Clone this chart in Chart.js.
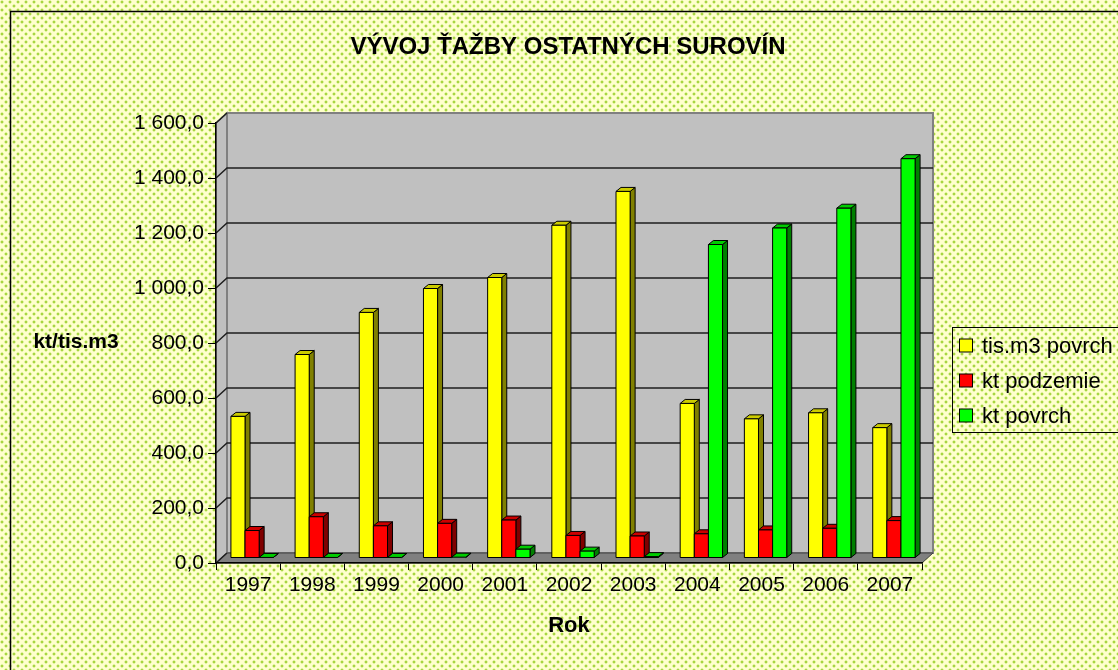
<!DOCTYPE html>
<html>
<head>
<meta charset="utf-8">
<script src="https://cdn.jsdelivr.net/npm/chart.js@4/dist/chart.umd.min.js"></script>
<style>
  html, body { margin: 0; padding: 0; background: #ffffcc; }
  #wrap { width: 1118px; height: 670px; }
</style>
</head>
<body>
<div id="wrap"><canvas id="chart" width="1118" height="670"></canvas></div>
<script>
// data
const years = ['1997', '1998', '1999', '2000', '2001', '2002', '2003', '2004', '2005', '2006', '2007'];
const tisM3Povrch = [515, 740, 893, 980, 1020, 1210, 1333, 562, 506, 528, 474];
const ktPodzemie = [100, 150, 117, 126, 138, 82, 80, 88, 102, 108, 136];
const ktPovrch = [2, 2, 2, 3, 32, 25, 5, 1140, 1200, 1272, 1452];
const seriesNames = ['tis.m3 povrch', 'kt podzemie', 'kt povrch'];
const yTicks = [0, 200, 400, 600, 800, 1000, 1200, 1400, 1600];

const FONT = '"Liberation Sans", Arial, sans-serif';
Chart.defaults.font.family = FONT;
Chart.defaults.color = '#000';

// front / top / side colours of each series
const faces = [
    { front: '#ffff00', top: '#cccc00', side: '#808000' },
    { front: '#ff0000', top: '#cc0000', side: '#800000' },
    { front: '#00ff00', top: '#00cc00', side: '#008000' }
];

const WALL_DX = 11, WALL_DY = 10;  // depth of the 3d walls
const BAR_SHIFT_X = 4, BAR_SHIFT_Y = 5; // bars sit half way into the depth
const BAR_DX = 5, BAR_DY = 4;      // depth of the 3d bars

function fmt(v) {
    const parts = v.toFixed(1).split('.');
    return parts[0].replace(/\B(?=(\d{3})+(?!\d))/g, ' ') + ',' + parts[1];
}

// dotted background like the Excel fill
function makePattern(ctx) {
    const tile = document.createElement('canvas');
    tile.width = 8; tile.height = 8;
    const t = tile.getContext('2d');
    t.fillStyle = '#ffffcc';
    t.fillRect(0, 0, 8, 8);
    [[1, 1], [5, 5]].forEach(([x, y]) => {
        t.fillStyle = '#e2f2a4';
        t.fillRect(x - 1, y, 1, 2);
        t.fillRect(x + 2, y, 1, 2);
        t.fillRect(x, y - 1, 2, 1);
        t.fillRect(x, y + 2, 2, 1);
        t.fillStyle = '#a8d63e';
        t.fillRect(x, y, 2, 2);
    });
    return ctx.createPattern(tile, 'repeat');
}

function poly(ctx, pts, fill, stroke, lw) {
    ctx.beginPath();
    ctx.moveTo(pts[0][0], pts[0][1]);
    for (let i = 1; i < pts.length; i++) ctx.lineTo(pts[i][0], pts[i][1]);
    ctx.closePath();
    if (fill) { ctx.fillStyle = fill; ctx.fill(); }
    if (stroke) { ctx.strokeStyle = stroke; ctx.lineWidth = lw || 1; ctx.stroke(); }
}

const excel3d = {
    id: 'excel3d',
    beforeDraw(chart) {
        const { ctx, chartArea: a, scales: { y } } = chart;
        ctx.save();
        ctx.fillStyle = makePattern(ctx);
        ctx.fillRect(0, 0, chart.width, chart.height);

        // left wall
        poly(ctx, [[a.left, a.top], [a.left + WALL_DX, a.top - WALL_DY],
            [a.left + WALL_DX, a.bottom - WALL_DY], [a.left, a.bottom]], '#c0c0c0', '#808080', 1.5);
        // back wall
        ctx.fillStyle = '#c0c0c0';
        ctx.fillRect(a.left + WALL_DX, a.top - WALL_DY, a.right - a.left, a.bottom - a.top);
        ctx.strokeStyle = '#808080';
        ctx.lineWidth = 2;
        ctx.strokeRect(a.left + WALL_DX, a.top - WALL_DY, a.right - a.left, a.bottom - a.top);
        // floor
        poly(ctx, [[a.left, a.bottom], [a.right, a.bottom], [a.right + WALL_DX, a.bottom - WALL_DY],
            [a.left + WALL_DX, a.bottom - WALL_DY]], '#808080', '#404040', 1);

        // gridlines on the walls
        ctx.strokeStyle = '#1e1e1e';
        ctx.lineWidth = 1.5;
        y.ticks.forEach(t => {
            const yy = y.getPixelForValue(t.value);
            ctx.beginPath();
            ctx.moveTo(a.left, yy);
            ctx.lineTo(a.left + WALL_DX, yy - WALL_DY);
            if (t.value > y.min && t.value < y.max) ctx.lineTo(a.right + WALL_DX, yy - WALL_DY);
            ctx.stroke();
        });
        ctx.restore();
    },
    afterDatasetsDraw(chart) {
        const { ctx } = chart;
        const metas = chart.data.datasets.map((d, i) => chart.getDatasetMeta(i));
        ctx.save();
        ctx.lineJoin = 'miter';
        for (let i = 0; i < chart.data.labels.length; i++) {
            metas.forEach((meta, d) => {
                const bar = meta.data[i];
                if (!bar) return;
                const p = bar.getProps(['x', 'y', 'base', 'width'], true);
                const l = p.x - p.width / 2 + BAR_SHIFT_X, r = p.x + p.width / 2 + BAR_SHIFT_X;
                const top = Math.min(p.y, p.base) - BAR_SHIFT_Y, bot = Math.max(p.y, p.base) - BAR_SHIFT_Y;
                const f = faces[d];
                poly(ctx, [[r, top], [r + BAR_DX, top - BAR_DY], [r + BAR_DX, bot - BAR_DY], [r, bot]], f.side, '#000', 1);
                poly(ctx, [[l, top], [r, top], [r + BAR_DX, top - BAR_DY], [l + BAR_DX, top - BAR_DY]], f.top, '#000', 1);
                if (bot - top > 0.5) poly(ctx, [[l, top], [r, top], [r, bot], [l, bot]], f.front, '#000', 1);
            });
        }
        ctx.restore();
    },
    afterDraw(chart) {
        const { ctx, chartArea: a } = chart;
        ctx.save();
        ctx.fillStyle = '#000';
        ctx.textBaseline = 'middle';
        ctx.textAlign = 'center';
        ctx.font = 'bold 24px ' + FONT;
        ctx.fillText('VÝVOJ ŤAŽBY OSTATNÝCH SUROVÍN', 568, 47);
        ctx.font = 'bold 22px ' + FONT;
        ctx.fillText('Rok', (a.left + a.right) / 2, 626);
        ctx.font = 'bold 21px ' + FONT;
        ctx.fillText('kt/tis.m3', 76, 342);

        // legend
        ctx.strokeStyle = '#000';
        ctx.lineWidth = 1;
        ctx.strokeRect(952.5, 327.5, 220, 105);
        ctx.textAlign = 'left';
        ctx.font = '22px ' + FONT;
        chart.data.datasets.forEach((ds, i) => {
            const cy = 345.5 + i * 35;
            ctx.fillStyle = faces[i].front;
            ctx.fillRect(959.5, cy - 6.5, 13, 13);
            ctx.strokeRect(959.5, cy - 6.5, 13, 13);
            ctx.fillStyle = '#000';
            ctx.fillText(ds.label, 982, cy + 1);
        });

        // outer frame
        ctx.lineWidth = 1.5;
        ctx.strokeRect(10.5, 11.5, 1300, 800);
        ctx.restore();
    }
};

const seriesData = [tisM3Povrch, ktPodzemie, ktPovrch];

new Chart(document.getElementById('chart').getContext('2d'), {
    type: 'bar',
    data: {
        labels: years,
        datasets: seriesData.map((values, i) => ({
            label: seriesNames[i],
            data: values,
            // the 3d plugin paints the bars, the library only positions them
            backgroundColor: 'rgba(0,0,0,0)',
            borderWidth: 0,
            categoryPercentage: 0.66,
            barPercentage: 1.0
        }))
    },
    options: {
        responsive: false,
        animation: false,
        layout: { padding: { left: 0, right: 196, top: 123, bottom: 0 } },
        plugins: {
            legend: { display: false },
            title: { display: false },
            tooltip: { enabled: false }
        },
        scales: {
            x: {
                grid: { display: true, drawOnChartArea: false, drawTicks: true, tickLength: 7, color: '#000', offset: true },
                border: { display: true, color: '#000', width: 1.5 },
                ticks: { font: { size: 21 }, padding: 3, maxRotation: 0, autoSkip: false },
                afterFit(scale) { scale.height = 107; }
            },
            y: {
                min: yTicks[0],
                max: yTicks[yTicks.length - 1],
                afterBuildTicks(scale) { scale.ticks = yTicks.map(v => ({ value: v })); },
                grid: { display: true, drawOnChartArea: false, drawTicks: true, tickLength: 8, color: '#000' },
                border: { display: true, color: '#000', width: 1.5 },
                ticks: { font: { size: 21 }, padding: 4, callback: v => fmt(v) },
                afterFit(scale) { scale.width = 216; }
            }
        }
    },
    plugins: [excel3d]
});
</script>
</body>
</html>
